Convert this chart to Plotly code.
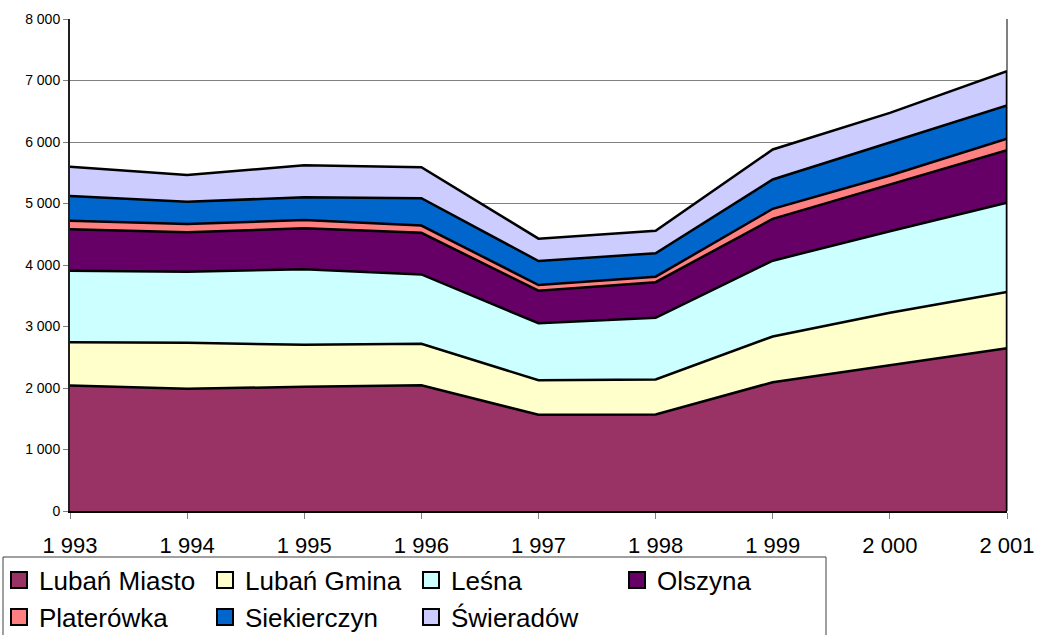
import plotly.graph_objects as go

years = [1993, 1994, 1995, 1996, 1997, 1998, 1999, 2000, 2001]
year_labels = ["1 993", "1 994", "1 995", "1 996", "1 997", "1 998", "1 999", "2 000", "2 001"]

lubań_miasto = [2041, 1987, 2020, 2046, 1564, 1569, 2094, 2369, 2645]
lubań_gmina = [704, 748, 682, 673, 563, 569, 744, 853, 916]
leśna = [1162, 1157, 1228, 1127, 926, 1003, 1232, 1328, 1450]
olszyna = [673, 639, 666, 677, 530, 579, 681, 759, 856]
platerówka = [140, 136, 136, 119, 92, 90, 163, 146, 185]
siekierczyn = [402, 363, 368, 443, 390, 380, 476, 532, 541]
świeradów = [476, 433, 521, 504, 363, 367, 488, 487, 558]

series_names = ["Lubań Miasto", "Lubań Gmina", "Leśna", "Olszyna", "Platerówka", "Siekierczyn", "Świeradów"]
series_values = [lubań_miasto, lubań_gmina, leśna, olszyna, platerówka, siekierczyn, świeradów]
series_colors = ["#993366", "#FFFFCC", "#CCFFFF", "#660066", "#FF8080", "#0066CC", "#CCCCFF"]

y_ticks = [0, 1000, 2000, 3000, 4000, 5000, 6000, 7000, 8000]
y_tick_labels = ["0", "1 000", "2 000", "3 000", "4 000", "5 000", "6 000", "7 000", "8 000"]

FONT = "Liberation Sans, Arial, sans-serif"

fig = go.Figure()

for name, vals, col in zip(series_names, series_values, series_colors):
    fig.add_trace(go.Scatter(
        x=years, y=vals, name=name, mode="lines", stackgroup="one",
        line=dict(color="black", width=2.5), fillcolor=col, showlegend=False,
        hoverinfo="x+y+name",
    ))

# right edge outline of the stacked area (from the data total)
total_last = sum(v[-1] for v in series_values)
fig.add_trace(go.Scatter(x=[years[-1], years[-1]], y=[0, total_last], mode="lines",
                         line=dict(color="black", width=2.5), showlegend=False, hoverinfo="skip"))

# legend entries (square markers)
for i, (name, col) in enumerate(zip(series_names, series_colors)):
    fig.add_trace(go.Scatter(
        x=[None], y=[None], mode="markers", name=name,
        marker=dict(symbol="square", size=16, color=col, line=dict(color="black", width=2)),
        legend="legend" if i < 4 else "legend2", showlegend=True,
    ))

L, R, T, B = 70, 30, 19, 124
W, H = 1037, 635
pw = W - L - R
ph = H - T - B

def px_x(x):
    return (x - L) / pw

def px_y(y):
    return (H - B - y) / ph

leg_common = dict(
    orientation="h", xanchor="left", yanchor="middle", traceorder="normal",
    font=dict(family=FONT, size=26, color="black"),
    entrywidth=161, entrywidthmode="pixels",
    bgcolor="rgba(0,0,0,0)", borderwidth=0, itemwidth=30,
)

fig.update_layout(
    width=W, height=H,
    margin=dict(l=L, r=R, t=T, b=B, pad=0, autoexpand=False),
    paper_bgcolor="white", plot_bgcolor="white",
    font=dict(family=FONT, color="black"),
    xaxis=dict(
        range=[years[0], years[-1]], tickvals=years, ticktext=year_labels,
        ticks="outside", ticklen=6, tickcolor="#808080", tickwidth=1,
        showline=True, linecolor="black", linewidth=2, showgrid=False, zeroline=False,
        tickfont=dict(family=FONT, size=22, color="black"), ticklabelstandoff=8,
        automargin=False,
    ),
    yaxis=dict(
        range=[0, 8000], tickvals=y_ticks, ticktext=y_tick_labels,
        ticks="outside", ticklen=5, tickcolor="#808080", tickwidth=1,
        showline=True, linecolor="#202020", linewidth=2,
        showgrid=True, gridcolor="#808080", gridwidth=1, zeroline=False,
        tickfont=dict(family=FONT, size=14, color="black"), automargin=False,
    ),
    legend=dict(x=px_x(-1), y=px_y(580), **leg_common),
    legend2=dict(x=px_x(-1), y=px_y(617), **leg_common),
    shapes=[
        dict(type="line", xref="paper", yref="paper", x0=1, x1=1, y0=0, y1=1,
             line=dict(color="#808080", width=2), layer="below"),
        dict(type="rect", xref="paper", yref="paper",
             x0=px_x(3), x1=px_x(826), y0=px_y(557), y1=px_y(645),
             line=dict(color="#404040", width=1), fillcolor="rgba(0,0,0,0)", layer="above"),
    ],
    showlegend=True,
)

fig.write_html(
    "out.html",
    config={"displayModeBar": False},
    post_script="document.body.style.margin='0';document.body.style.overflow='hidden';",
)
